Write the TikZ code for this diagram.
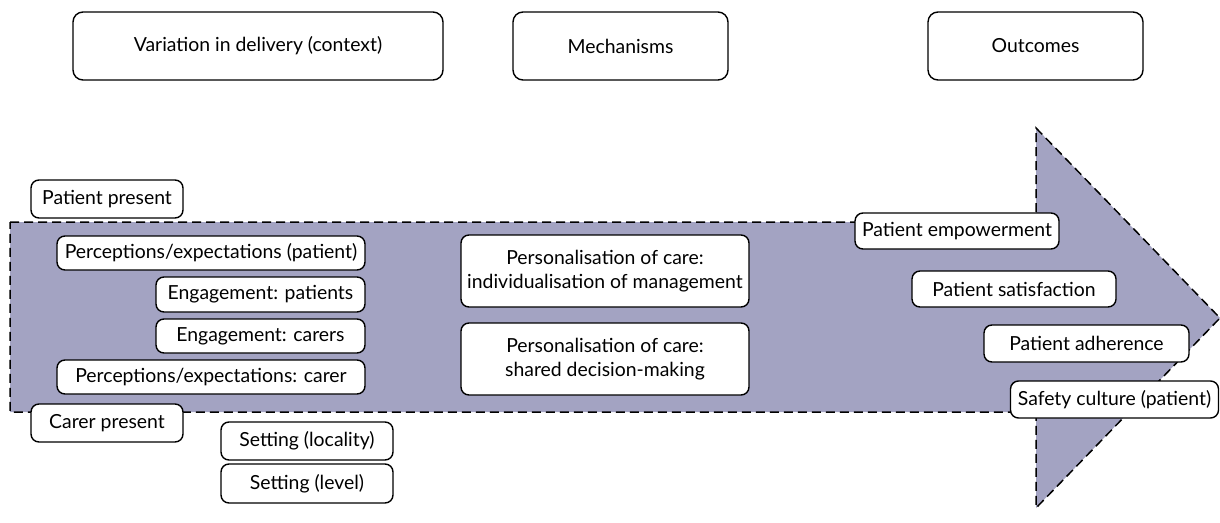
\documentclass[tikz,border=0pt]{standalone}
\usepackage{fontspec}
\setmainfont{Lato}
\definecolor{arrowfill}{RGB}{163,163,194}
\tikzset{
  box/.style={draw=black, line width=1.4pt, fill=white, rounded corners=8pt, inner sep=0pt, align=center, font=\fontsize{19.4}{24}\selectfont},
  hbox/.style={box, rounded corners=10pt},
  bigarrow/.style={fill=arrowfill, draw=black, line width=1.5pt, dash pattern=on 9pt off 5pt}
}
\begin{document}
\begin{tikzpicture}[x=1pt,y=-1pt]
\useasboundingbox (0,0) rectangle (1220,522);
% big arrow
\coordinate (a1) at (10,222);
\coordinate (a2) at (1036,222);
\coordinate (a3) at (1036,128);
\coordinate (a4) at (1220,318);
\coordinate (a5) at (1036,508);
\coordinate (a6) at (1036,412);
\coordinate (a7) at (10,412);
\draw[bigarrow] (a1) -- (a2) -- (a3) -- (a4) -- (a5) -- (a6) -- (a7) -- cycle;
% headers
\node[hbox, minimum width=370, minimum height=68] (h1) at (258,46) {Variation in delivery (context)};
\node[hbox, minimum width=215, minimum height=68] (h2) at (620.5,46) {Mechanisms};
\node[hbox, minimum width=215, minimum height=68] (h3) at (1035.5,46) {Outcomes};
% context
\node[box, minimum width=152, minimum height=38] (pp) at (107,199) {Patient present};
\node[box, minimum width=308, minimum height=34] (pep) at (211,253) {Perceptions/expectations (patient)};
\node[box, minimum width=209, minimum height=35] (ep) at (260.5,294.5) {Engagement: patients};
\node[box, minimum width=209, minimum height=34] (ec) at (260.5,336) {Engagement: carers};
\node[box, minimum width=308, minimum height=34] (pec) at (211,377) {Perceptions/expectations: carer};
\node[box, minimum width=152, minimum height=38] (cp) at (107,423) {Carer present};
\node[box, minimum width=172, minimum height=38] (sloc) at (307,441) {Setting (locality)};
\node[box, minimum width=172, minimum height=39] (slev) at (307,483.5) {Setting (level)};
% mechanisms
\node[box, minimum width=288, minimum height=72] (m1) at (605,271) {Personalisation of care:\\individualisation of management};
\node[box, minimum width=288, minimum height=72] (m2) at (605,359) {Personalisation of care:\\shared decision-making};
% outcomes
\node[box, minimum width=204, minimum height=36] (o1) at (957,231) {Patient empowerment};
\node[box, minimum width=204, minimum height=36] (o2) at (1014,289) {Patient satisfaction};
\node[box, minimum width=205, minimum height=37] (o3) at (1086.5,343.5) {Patient adherence};
\node[box, minimum width=208, minimum height=37] (o4) at (1114.5,399.5) {Safety culture (patient)};
\end{tikzpicture}
\end{document}
